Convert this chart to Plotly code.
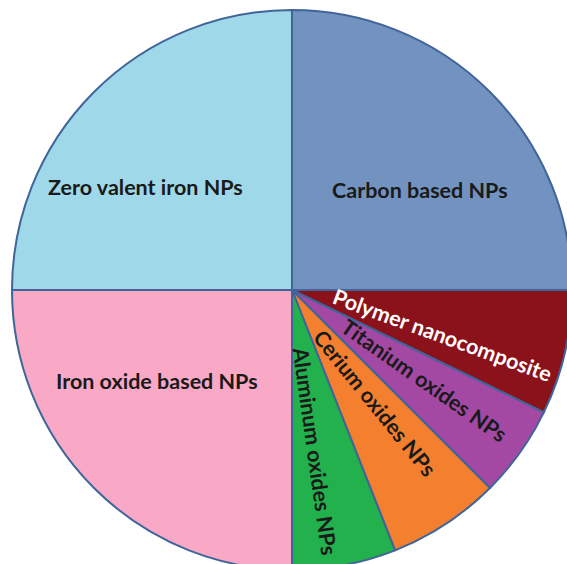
import math
import plotly.graph_objects as go

# ---- data ----
labels = ["Carbon based NPs", "Polymer nanocomposite", "Titanium oxides NPs",
          "Cerium oxides NPs", "Aluminum oxides NPs", "Iron oxide based NPs",
          "Zero valent iron NPs"]
values = [25, 7.2, 5.3, 6.5, 6.0, 25, 25]

# ---- style ----
colors = ["#7293C0", "#8B111B", "#A349A4", "#F37F2F", "#23B14D", "#F9A8C5", "#9FD8E8"]
text_colors = ["#1A1A1A", "#FFFFFF", "#1A1A1A", "#1A1A1A", "#1A1A1A", "#1A1A1A", "#1A1A1A"]
label_radius = [0.58, 0.56, 0.57, 0.50, 0.58, 0.58, 0.64]      # fraction of radius
label_angle_offset = [7, 3.7, -1, -3, 2.6, 11, -10]             # degrees from slice middle
text_angles = [0, 20, 35, 51, 82, 0, 0]

W, H = 584, 580
CX, CY, R = 292, 290, 280

fig = go.Figure(go.Pie(
    labels=labels, values=values, sort=False, direction="clockwise", rotation=0,
    marker=dict(colors=colors, line=dict(color="#3F659A", width=2)),
    textinfo="none", hoverinfo="label+percent", showlegend=False,
    domain=dict(x=[(CX - R) / W, (CX + R) / W], y=[1 - (CY + R) / H, 1 - (CY - R) / H]),
))

total = sum(values)
cum = 0
annotations = []
for i, (lab, v) in enumerate(zip(labels, values)):
    mid = (cum + v / 2) / total * 360 - 90 + label_angle_offset[i]
    cum += v
    a = math.radians(mid)
    px = CX + label_radius[i] * R * math.cos(a)
    py = CY + label_radius[i] * R * math.sin(a)
    annotations.append(dict(
        x=px / W, y=1 - py / H, xref="paper", yref="paper", text=lab,
        showarrow=False, textangle=text_angles[i], xanchor="center", yanchor="middle",
        font=dict(family="Lato", size=21.5, color=text_colors[i], weight=700),
    ))

fig.update_layout(
    width=W, height=H, margin=dict(l=0, r=0, t=0, b=0),
    paper_bgcolor="white", plot_bgcolor="white", annotations=annotations,
)

fig.write_html("out.html", config={"displayModeBar": False},
               post_script="document.body.style.margin='0';document.body.style.overflow='hidden';")
